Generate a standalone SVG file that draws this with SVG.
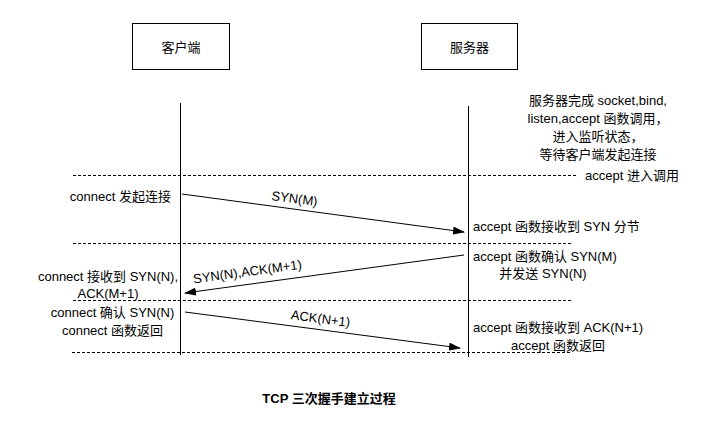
<svg xmlns="http://www.w3.org/2000/svg" width="705" height="423" viewBox="0 0 705 423">
<style>
text{font-family:"Liberation Sans","Noto Sans CJK SC",sans-serif;font-size:13px;fill:#000}
.box{fill:#fff;stroke:#000;stroke-width:1}
.life{stroke:#000;stroke-width:1}
.dash{stroke:#000;stroke-width:1;stroke-dasharray:3 2;fill:none}
.msg{stroke:#000;stroke-width:1;fill:none;marker-end:url(#ah)}
.c{text-anchor:middle}
.r{text-anchor:end}
</style>
<defs>
<marker id="ah" markerWidth="12" markerHeight="8" refX="11" refY="4" orient="auto" markerUnits="userSpaceOnUse">
<path d="M0,0 L12,4 L0,8 z" fill="#000"/>
</marker>
</defs>
<rect width="705" height="423" fill="#fff"/>
<g id="client">
<rect class="box" x="132.5" y="23.5" width="97" height="46"/>
<text class="c" x="181" y="52">客户端</text>
<line class="life" x1="180.5" y1="103" x2="180.5" y2="355"/>
</g>
<g id="server">
<rect class="box" x="421.5" y="23.5" width="96" height="46"/>
<text class="c" x="469.5" y="52">服务器</text>
<line class="life" x1="468.5" y1="106" x2="468.5" y2="357"/>
</g>
<g id="connectors">
<line class="dash" x1="73" y1="175.5" x2="578" y2="175.5"/>
<line class="dash" x1="73" y1="243.5" x2="573" y2="243.5"/>
<line class="dash" x1="73" y1="300.5" x2="573" y2="300.5"/>
<line class="dash" x1="72" y1="352.5" x2="570" y2="352.5"/>
<line class="msg" x1="182" y1="194" x2="464" y2="232"/>
<line class="msg" x1="464" y1="255" x2="185" y2="293"/>
<line class="msg" x1="185" y1="312" x2="460" y2="348"/>
<text class="c" transform="translate(294,203) rotate(7.7)">SYN(M)</text>
<text class="c" transform="translate(248,276) rotate(-7.8)">SYN(N),ACK(M+1)</text>
<text class="c" transform="translate(320,323) rotate(7.5)">ACK(N+1)</text>
</g>
<g id="notes">
<text class="c" x="598" y="105">服务器完成 socket,bind,</text>
<text class="c" x="598" y="123">listen,accept 函数调用，</text>
<text class="c" x="598" y="141">进入监听状态，</text>
<text class="c" x="598" y="159">等待客户端发起连接</text>
<text x="585" y="180">accept 进入调用</text>
<text class="r" x="171" y="201">connect 发起连接</text>
<text x="473" y="231">accept 函数接收到 SYN 分节</text>
<text x="473" y="261">accept 函数确认 SYN(M)</text>
<text class="c" x="543" y="278">并发送 SYN(N)</text>
<text class="c" x="108" y="281">connect 接收到 SYN(N),</text>
<text class="c" x="108" y="298">ACK(M+1)</text>
<text class="c" x="112.5" y="317">connect 确认 SYN(N)</text>
<text class="c" x="112.5" y="335">connect 函数返回</text>
<text x="473" y="332">accept 函数接收到 ACK(N+1)</text>
<text class="c" x="558" y="350">accept 函数返回</text>
<text class="c" x="329" y="403" font-weight="bold">TCP 三次握手建立过程</text>
</g>
</svg>
